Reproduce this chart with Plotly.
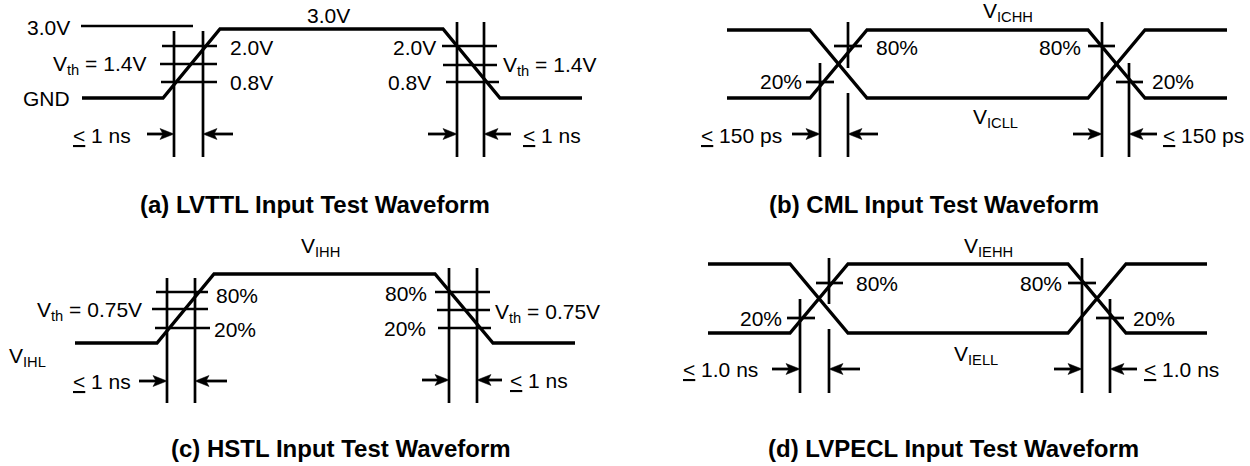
import plotly.graph_objects as go

FONT = "Liberation Sans, Arial, sans-serif"
INK = "#000000"
LBL = 21      # label font size (px)
TTL = 24      # caption font size (px)
LE = "<u>&lt;</u> "
PAGE_MARGIN = 0   # page margin is removed by the post script below

# ---------------- (a) LVTTL ----------------
a_wave_x = [82, 163, 220, 443, 500, 582]
a_wave_y = [98, 98, 29, 29, 98, 98]
a_ref_x = [81, 193]
a_ref_y = [26, 26]
a_vert_x = [174, 203, 457, 484]
a_vert_y0 = [31, 31, 22, 22]
a_vert_y1 = [157, 157, 157, 157]
a_tick_y = [46, 64, 82, 46, 65, 82]
a_tick_x0 = [162, 160, 161, 442, 443, 446]
a_tick_x1 = [217, 217, 217, 497, 497, 499]
a_arrow_tail = [147, 233, 428, 511]
a_arrow_tip = [174, 203, 457, 484]
a_arrow_y = [134, 134, 134, 134]
a_labels = ["3.0V", "V<sub>th</sub> = 1.4V", "GND", "2.0V", "0.8V", LE + "1 ns",
            "3.0V", "2.0V", "0.8V", "V<sub>th</sub> = 1.4V", LE + "1 ns"]
a_label_x = [71, 147, 71, 229, 229, 132, 328, 437, 432, 502, 522]
a_label_y = [27, 65, 98, 47, 82, 135, 15, 47, 82, 66, 135]
a_label_anchor = ["right", "right", "right", "left", "left", "right",
                  "center", "right", "right", "left", "left"]
a_title = "(a) LVTTL Input Test Waveform"

# ---------------- (b) CML ----------------
b_wave1_x = [727, 810, 867, 1088, 1145, 1227]
b_wave1_y = [30, 30, 98, 98, 30, 30]
b_wave2_x = [727, 810, 867, 1088, 1145, 1227]
b_wave2_y = [98, 98, 30, 30, 98, 98]
b_vert_x = [820, 848, 848, 1102, 1129]
b_vert_y0 = [63, 22, 93, 22, 63]
b_vert_y1 = [157, 68, 157, 157, 157]
b_tick_y = [46, 82, 46, 82]
b_tick_x0 = [834, 806, 1088, 1116]
b_tick_x1 = [862, 834, 1115, 1143]
b_arrow_tail = [792, 878, 1073, 1157]
b_arrow_tip = [820, 848, 1102, 1129]
b_arrow_y = [134, 134, 134, 134]
b_labels = ["80%", "20%", LE + "150 ps", "V<sub>ICHH</sub>", "80%", "20%",
            "V<sub>ICLL</sub>", LE + "150 ps"]
b_label_x = [875, 803, 783, 982, 1082, 1151, 972, 1162]
b_label_y = [47, 81, 135, 12, 47, 81, 118, 135]
b_label_anchor = ["left", "right", "right", "left", "right", "left", "left", "left"]
b_title = "(b) CML Input Test Waveform"

# ---------------- (c) HSTL ----------------
c_wave_x = [75, 157, 214, 435, 493, 575]
c_wave_y = [343, 343, 274, 274, 343, 343]
c_vert_x = [167, 195, 449, 477]
c_vert_y0 = [278, 278, 268, 268]
c_vert_y1 = [403, 403, 403, 403]
c_tick_y = [292, 309, 328, 292, 310, 328]
c_tick_x0 = [156, 152, 155, 435, 437, 438]
c_tick_x1 = [208, 208, 210, 490, 490, 491]
c_arrow_tail = [139, 227, 422, 502]
c_arrow_tip = [167, 195, 449, 477]
c_arrow_y = [381, 381, 380, 380]
c_labels = ["80%", "20%", "V<sub>th</sub> = 0.75V", "V<sub>IHL</sub>", LE + "1 ns",
            "V<sub>IHH</sub>", "80%", "20%", "V<sub>th</sub> = 0.75V", LE + "1 ns"]
c_label_x = [215, 213, 143, 8, 132, 300, 428, 427, 494, 509]
c_label_y = [295, 329, 311, 357, 381, 247, 293, 328, 313, 380]
c_label_anchor = ["left", "left", "right", "left", "right", "left",
                  "right", "right", "left", "left"]
c_title = "(c) HSTL Input Test Waveform"

# ---------------- (d) LVPECL ----------------
d_wave1_x = [708, 790, 848, 1068, 1126, 1207]
d_wave1_y = [264, 264, 333, 333, 264, 264]
d_wave2_x = [708, 790, 848, 1068, 1126, 1207]
d_wave2_y = [333, 333, 264, 264, 333, 333]
d_vert_x = [800, 829, 829, 1082, 1110]
d_vert_y0 = [299, 258, 329, 258, 299]
d_vert_y1 = [393, 304, 393, 393, 393]
d_tick_y = [283, 318, 283, 318]
d_tick_x0 = [816, 787, 1068, 1096]
d_tick_x1 = [843, 815, 1096, 1124]
d_arrow_tail = [772, 860, 1054, 1137]
d_arrow_tip = [800, 829, 1082, 1110]
d_arrow_y = [369, 369, 369, 369]
d_labels = ["80%", "20%", LE + "1.0 ns", "V<sub>IEHH</sub>", "80%", "20%",
            "V<sub>IELL</sub>", LE + "1.0 ns"]
d_label_x = [855, 783, 759, 963, 1063, 1132, 953, 1143]
d_label_y = [283, 318, 369, 247, 283, 318, 355, 369]
d_label_anchor = ["left", "right", "right", "left", "right", "left", "left", "left"]
d_title = "(d) LVPECL Input Test Waveform"

titles = [a_title, b_title, c_title, d_title]
title_x = [315, 934, 341, 953]
title_y = [204, 204, 448, 448]

# arrowhead style (barbed head)
HEAD_L = 14
HEAD_H = 5.5
HEAD_N = 3

fig = go.Figure()


def add_poly(xs, ys, width, fill=False):
    fig.add_trace(go.Scatter(x=xs, y=ys, mode="lines",
                             line=dict(color=INK, width=width),
                             fill="toself" if fill else "none",
                             fillcolor=INK,
                             hoverinfo="skip", showlegend=False))


def add_segments(x0s, y0s, x1s, y1s, width):
    xs, ys = [], []
    for x0, y0, x1, y1 in zip(x0s, y0s, x1s, y1s):
        xs += [x0, x1, None]
        ys += [y0, y1, None]
    add_poly(xs, ys, width)


def add_arrows(tails, tips, ys):
    sx, sy = [], []
    for t, p, y in zip(tails, tips, ys):
        d = 1 if p > t else -1
        sx += [t, p - d * (HEAD_L - HEAD_N), None]
        sy += [y, y, None]
        add_poly([p, p - d * HEAD_L, p - d * (HEAD_L - HEAD_N), p - d * HEAD_L, p],
                 [y, y - HEAD_H, y, y + HEAD_H, y], 0.5, fill=True)
    add_poly(sx, sy, 2.8)


def add_labels(texts, xs, ys, anchors):
    for t, x, y, a in zip(texts, xs, ys, anchors):
        fig.add_annotation(x=x, y=y, xref="x", yref="y", text=t,
                           showarrow=False, xanchor=a, yanchor="middle",
                           font=dict(family=FONT, size=LBL, color=INK),
                           borderpad=0)


# waveforms
add_poly(a_wave_x, a_wave_y, 3.3)
add_poly(a_ref_x, a_ref_y, 2.6)
add_poly(b_wave1_x, b_wave1_y, 3.3)
add_poly(b_wave2_x, b_wave2_y, 3.3)
add_poly(c_wave_x, c_wave_y, 3.3)
add_poly(d_wave1_x, d_wave1_y, 3.3)
add_poly(d_wave2_x, d_wave2_y, 3.3)

# timing markers (verticals) and level ticks
add_segments(a_vert_x, a_vert_y0, a_vert_x, a_vert_y1, 2.7)
add_segments(b_vert_x, b_vert_y0, b_vert_x, b_vert_y1, 2.7)
add_segments(c_vert_x, c_vert_y0, c_vert_x, c_vert_y1, 2.7)
add_segments(d_vert_x, d_vert_y0, d_vert_x, d_vert_y1, 2.7)
add_segments(a_tick_x0, a_tick_y, a_tick_x1, a_tick_y, 2.7)
add_segments(b_tick_x0, b_tick_y, b_tick_x1, b_tick_y, 2.7)
add_segments(c_tick_x0, c_tick_y, c_tick_x1, c_tick_y, 2.7)
add_segments(d_tick_x0, d_tick_y, d_tick_x1, d_tick_y, 2.7)

# arrows
add_arrows(a_arrow_tail, a_arrow_tip, a_arrow_y)
add_arrows(b_arrow_tail, b_arrow_tip, b_arrow_y)
add_arrows(c_arrow_tail, c_arrow_tip, c_arrow_y)
add_arrows(d_arrow_tail, d_arrow_tip, d_arrow_y)

# labels
add_labels(a_labels, a_label_x, a_label_y, a_label_anchor)
add_labels(b_labels, b_label_x, b_label_y, b_label_anchor)
add_labels(c_labels, c_label_x, c_label_y, c_label_anchor)
add_labels(d_labels, d_label_x, d_label_y, d_label_anchor)

# captions
for t, x, y in zip(titles, title_x, title_y):
    fig.add_annotation(x=x, y=y, xref="x", yref="y", text="<b>" + t + "</b>",
                       showarrow=False, xanchor="center", yanchor="middle",
                       font=dict(family=FONT, size=TTL, color=INK))

# axes mapped 1:1 onto page pixels
fig.update_xaxes(range=[PAGE_MARGIN, 1250 + PAGE_MARGIN], visible=False, fixedrange=True)
fig.update_yaxes(range=[466 + PAGE_MARGIN, PAGE_MARGIN], visible=False, fixedrange=True)
fig.update_layout(width=1250, height=466, margin=dict(l=0, r=0, t=0, b=0),
                  paper_bgcolor="white", plot_bgcolor="white")

fig.write_html("out.html", config={"displayModeBar": False},
               post_script="document.body.style.margin='0';"
                           "document.body.style.overflow='hidden';")
